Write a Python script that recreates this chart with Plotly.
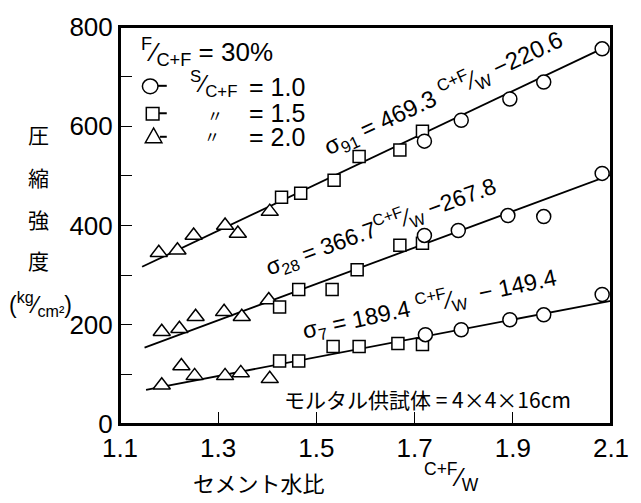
import plotly.graph_objects as go

# Cement-water ratio (C+F)/W and compressive strength (kg/cm2) per age and sand ratio
# Age 91 days
x91_s20 = [1.179, 1.217, 1.250, 1.314, 1.340, 1.405]
y91_s20 = [345, 350, 380, 400, 384, 428]
x91_s15 = [1.429, 1.468, 1.536, 1.587, 1.670, 1.716]
y91_s15 = [457, 465, 491, 539, 552, 590]
x91_s10 = [1.720, 1.795, 1.894, 1.963, 2.082]
y91_s10 = [570, 612, 655, 689, 756]

# Age 28 days
x28_s20 = [1.185, 1.221, 1.254, 1.312, 1.348, 1.403]
y28_s20 = [186, 192, 216, 226, 216, 250]
x28_s15 = [1.425, 1.464, 1.532, 1.583, 1.670, 1.716]
y28_s15 = [236, 271, 271, 311, 360, 364]
x28_s10 = [1.720, 1.789, 1.890, 1.963, 2.082]
y28_s10 = [380, 390, 420, 418, 505]

# Age 7 days
x7_s20 = [1.185, 1.225, 1.252, 1.314, 1.346, 1.405]
y7_s20 = [78, 117, 97, 97, 103, 91]
x7_s15 = [1.425, 1.464, 1.534, 1.587, 1.666, 1.716]
y7_s15 = [127, 127, 156, 156, 162, 160]
x7_s10 = [1.722, 1.795, 1.894, 1.963, 2.082]
y7_s10 = [180, 190, 210, 220, 261]

# Regression lines: sigma = a * (C+F)/W + b, drawn over [x_start, x_end]
fit_slope = [469.3, 366.7, 189.4]
fit_intercept = [-220.6, -267.8, -149.4]
fit_x_start = [1.145, 1.150, 1.153]
fit_x_end = [2.082, 2.100, 2.100]

x_ticks = [1.1, 1.3, 1.5, 1.7, 1.9, 2.1]
y_ticks = [0, 100, 200, 300, 400, 500, 600, 700, 800]
y_ticklabels = ["0", "", "200", "", "400", "", "600", "", "800"]

NUM_FONT = "Liberation Sans, Arial, sans-serif"
JP_FONT = "Noto Sans CJK JP, sans-serif"

# plot-area geometry in pixels, used to place the titles around the frame
L, R, T, B = 120, 624, 19, 424
W_PX, H_PX = 641, 503


def px_x(px):
    return (px - L) / (R - L)


def px_y(py):
    return (B - py) / (B - T)


fig = go.Figure()

for a, b, x0, x1 in zip(fit_slope, fit_intercept, fit_x_start, fit_x_end):
    fig.add_trace(go.Scatter(
        x=[x0, x1], y=[a * x0 + b, a * x1 + b], mode="lines",
        line=dict(color="black", width=1.8), hoverinfo="skip", showlegend=False))

marker_style = {
    "circle": dict(symbol="circle", size=14),
    "square": dict(symbol="square", size=12),
    "triangle-up": dict(symbol="triangle-up", size=15),
}

groups = [
    (x91_s20, y91_s20, "triangle-up"), (x91_s15, y91_s15, "square"), (x91_s10, y91_s10, "circle"),
    (x28_s20, y28_s20, "triangle-up"), (x28_s15, y28_s15, "square"), (x28_s10, y28_s10, "circle"),
    (x7_s20, y7_s20, "triangle-up"), (x7_s15, y7_s15, "square"), (x7_s10, y7_s10, "circle"),
]
for xs, ys, sym in groups:
    st = marker_style[sym]
    fig.add_trace(go.Scatter(
        x=xs, y=ys, mode="markers", showlegend=False, cliponaxis=False,
        marker=dict(symbol=st["symbol"], size=st["size"], color="white",
                    line=dict(color="black", width=1.5))))

ann = []


def note(x, y, text, size=22, font=NUM_FONT, angle=0):
    # positions are fractions of the plot area (paper coordinates)
    ann.append(dict(
        x=x, y=y, xref="paper", yref="paper",
        text=text, showarrow=False, textangle=angle, xanchor="center", yanchor="middle",
        font=dict(family=font, size=size, color="black")))


# Regression equations along each line
note(px_x(452), px_y(86), "σ<sub>91</sub> = 469.3 <sup>C+F</sup>⁄<sub>W</sub> −220.6", size=24, angle=-25)
note(px_x(387), px_y(222), "σ<sub>28</sub> = 366.7<sup>C+F</sup>⁄<sub>W</sub> −267.8", size=23, angle=-20)
note(px_x(438), px_y(301), "σ<sub>7</sub> = 189.4 <sup>C+F</sup>⁄<sub>W</sub>  − 149.4", size=23.5, angle=-12)

# Key in the upper-left corner
note(px_x(209), px_y(44), "<sup>F</sup>⁄<sub>C+F</sub> = 30%", size=26)
note(px_x(216), px_y(77), "<sup>S</sup>⁄<sub>C+F</sub>", size=24)
note(px_x(218), px_y(109), "〃", size=16, font=JP_FONT)
note(px_x(214), px_y(130), "〃", size=16, font=JP_FONT)
note(px_x(281), px_y(80), "= 1.0", size=25)
note(px_x(281), px_y(107), "= 1.5", size=25)
note(px_x(281), px_y(131), "= 2.0", size=25)

shapes = []
# key symbols: circle, square and triangle, each with a short tail
shapes.append(dict(type="circle", xref="paper", yref="paper",
                   x0=px_x(143), x1=px_x(159), y0=px_y(87), y1=px_y(72),
                   line=dict(color="black", width=1.5), fillcolor="white"))
shapes.append(dict(type="rect", xref="paper", yref="paper",
                   x0=px_x(147), x1=px_x(160), y0=px_y(114), y1=px_y(101),
                   line=dict(color="black", width=1.5), fillcolor="white"))
shapes.append(dict(type="path", xref="paper", yref="paper",
                   path="M {a},{b} L {c},{b} L {d},{e} Z".format(
                       a=px_x(146), b=px_y(137), c=px_x(163), d=px_x(154.5), e=px_y(122)),
                   line=dict(color="black", width=1.5), fillcolor="white"))
for x0, x1, yy in [(159, 168, 79), (160, 168, 107), (161, 168, 131)]:
    shapes.append(dict(type="line", xref="paper", yref="paper",
                       x0=px_x(x0), x1=px_x(x1), y0=px_y(yy), y1=px_y(yy),
                       line=dict(color="black", width=2)))
# frame around the plot area
shapes.append(dict(type="rect", xref="paper", yref="paper", x0=0, x1=1, y0=0, y1=1,
                   line=dict(color="black", width=2), fillcolor="rgba(0,0,0,0)", layer="above"))

# Specimen note
note(px_x(436), px_y(398), "モルタル供試体 = 4×4×16cm", size=21, font=JP_FONT)

# Y-axis title, set vertically
for ch, py in zip(["圧", "縮", "強", "度"], [128, 172, 215, 257]):
    note(px_x(36), px_y(py), ch, size=21, font=JP_FONT)
note(px_x(38), px_y(302), "(<sup>kg</sup>⁄<sub>cm²</sub>)", size=23)

# X-axis title
note(px_x(263), px_y(483), "セメント水比", size=22, font=JP_FONT)
note(px_x(460), px_y(478), "<sup>C+F</sup>⁄<sub>W</sub>", size=25)

fig.update_layout(
    width=W_PX, height=H_PX,
    margin=dict(l=L, r=W_PX - R, t=T, b=H_PX - B),
    paper_bgcolor="white", plot_bgcolor="white",
    annotations=ann, shapes=shapes,
    xaxis=dict(range=[1.1, 2.1], tickvals=x_ticks, ticktext=[str(v) for v in x_ticks],
               ticks="inside", ticklen=12, tickwidth=1.2, tickcolor="black",
               showline=True, linecolor="black", linewidth=2, mirror=True,
               showgrid=False, zeroline=False, ticklabeloverflow="allow",
               tickfont=dict(family=NUM_FONT, size=26, color="black")),
    yaxis=dict(range=[0, 800], tickvals=y_ticks, ticktext=y_ticklabels,
               ticks="inside", ticklen=12, tickwidth=1.2, tickcolor="black",
               showline=True, linecolor="black", linewidth=2, mirror=True,
               showgrid=False, zeroline=False, ticklabeloverflow="allow",
               tickfont=dict(family=NUM_FONT, size=26, color="black")),
)

fig.write_html("out.html")
